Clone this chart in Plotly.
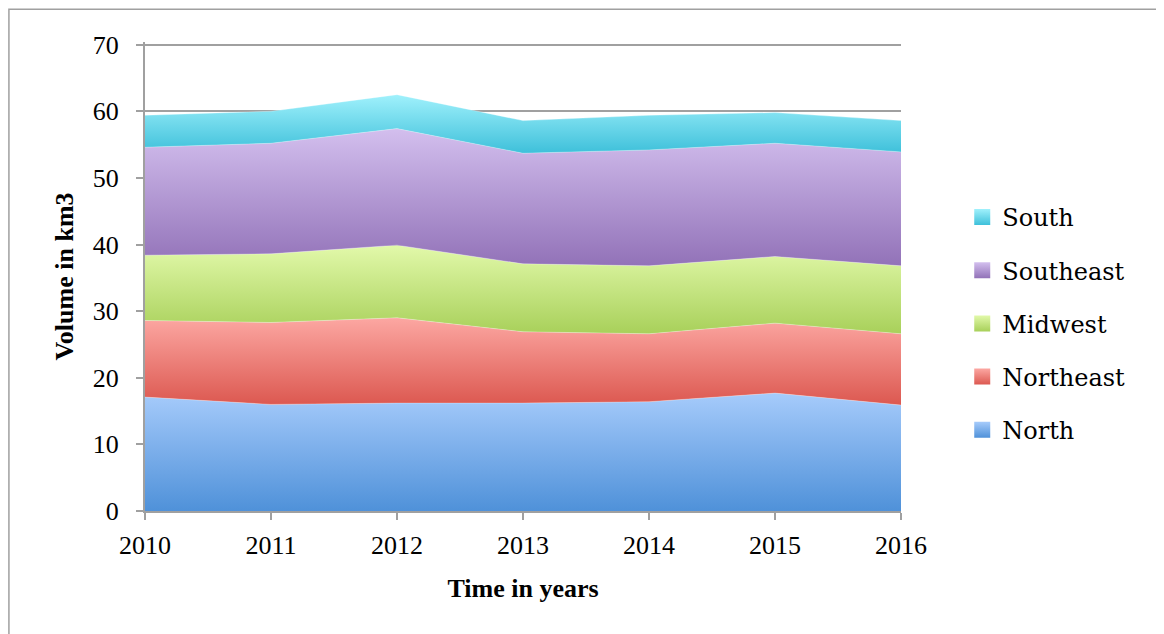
import plotly.graph_objects as go

years = [2010, 2011, 2012, 2013, 2014, 2015, 2016]
north = [17.1, 16.0, 16.2, 16.2, 16.4, 17.7, 15.9]
northeast = [11.5, 12.3, 12.8, 10.7, 10.2, 10.5, 10.7]
midwest = [9.8, 10.3, 10.9, 10.2, 10.2, 10.0, 10.2]
southeast = [16.2, 16.6, 17.5, 16.6, 17.4, 17.0, 17.1]
south = [4.8, 4.8, 5.1, 4.9, 5.2, 4.6, 4.7]

series = [
    ("North", north, "#4f91d9", "#a6cbfb"),
    ("Northeast", northeast, "#dc5850", "#fca7a2"),
    ("Midwest", midwest, "#a8d05a", "#e2f9aa"),
    ("Southeast", southeast, "#9272b8", "#d3bfee"),
    ("South", south, "#3ec0da", "#a0f1fc"),
]

fig = go.Figure()
base = [0.0] * len(years)
for i, (name, vals, dark, light) in enumerate(series):
    top = [b + v for b, v in zip(base, vals)]
    fig.add_trace(go.Scatter(
        x=years, y=vals, name=name, stackgroup="one", mode="lines",
        line=dict(width=0.6, color="rgba(255,255,255,0.5)"),
        fillcolor=dark,
        fillgradient=dict(type="vertical", colorscale=[[0, dark], [1, light]],
                          start=min(base), stop=max(top)),
        showlegend=False, hoverinfo="x+y+name",
    ))
    base = top

# legend entries with square swatches
for i, (name, vals, dark, light) in enumerate(series):
    fig.add_trace(go.Scatter(
        x=[None], y=[None], name=name, mode="markers",
        marker=dict(symbol="square", size=16, color=light,
                    gradient=dict(type="vertical", color=dark),
                    line=dict(width=0)),
        legendgroup=name, legendrank=100 - i, showlegend=True,
    ))

fig.update_layout(
    width=1164, height=634,
    margin=dict(l=137, r=271, t=34, b=131),
    paper_bgcolor="white", plot_bgcolor="white",
    font=dict(family="Liberation Serif", size=20, color="black"),
    showlegend=True,
    legend=dict(x=1.081, xanchor="left", y=0.40, yanchor="middle",
                traceorder="grouped", tracegroupgap=19,
                font=dict(family="DejaVu Serif", size=24),
                itemwidth=30, bgcolor="rgba(0,0,0,0)"),
    xaxis=dict(range=[2010, 2016], tickmode="array", tickvals=years,
               ticktext=[str(y) for y in years],
               showline=True, linecolor="#a0a0a0", linewidth=2,
               ticks="outside", ticklen=7, tickcolor="#a0a0a0", tickwidth=2,
               ticklabelstandoff=3,
               showgrid=False, zeroline=False,
               tickfont=dict(family="Liberation Serif", size=26),
               title=dict(text="<b>Time in years</b>", standoff=20,
                          font=dict(family="Liberation Serif", size=26))),
    yaxis=dict(range=[0, 70.4], tickvals=[0, 10, 20, 30, 40, 50, 60, 70],
               showline=True, linecolor="#a0a0a0", linewidth=2,
               ticks="outside", ticklen=7, tickcolor="#a0a0a0", tickwidth=2,
               ticklabelstandoff=12,
               showgrid=True, gridcolor="#a0a0a0", gridwidth=2,
               zeroline=False,
               tickfont=dict(family="Liberation Serif", size=26),
               title=dict(text="<b>Volume in km3</b>", standoff=12,
                          font=dict(family="Liberation Serif", size=26))),
)
fig.add_shape(type="rect", xref="paper", yref="paper",
              x0=-0.18, x1=1.344, y0=-0.30, y1=1.07,
              line=dict(color="#a0a0a0", width=1.5), layer="below")

fig.write_html("out.html")
